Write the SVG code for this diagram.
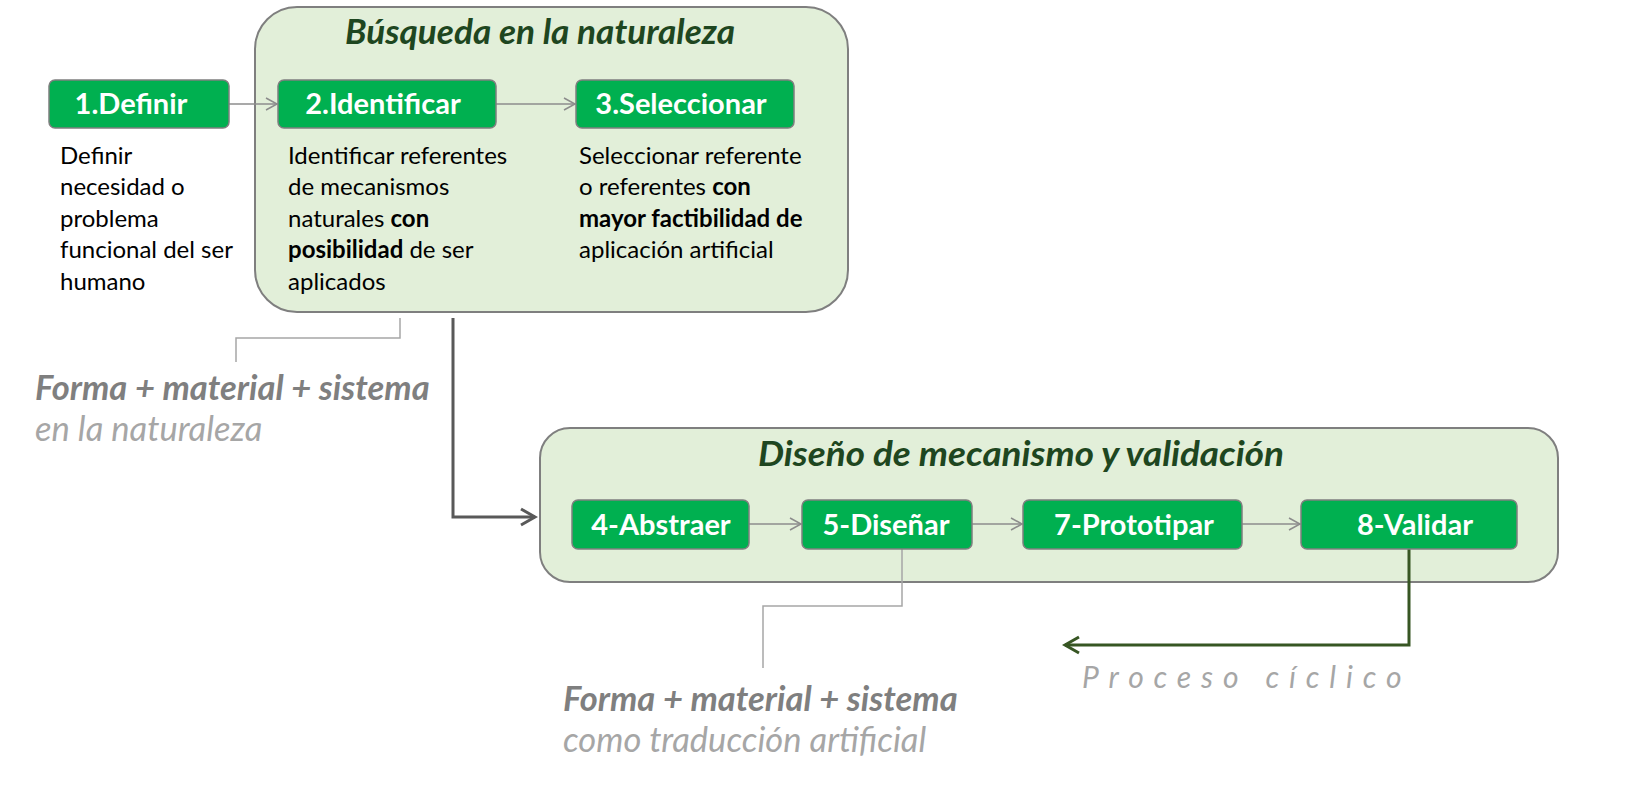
<svg xmlns="http://www.w3.org/2000/svg" width="1632" height="792" viewBox="0 0 1632 792">
  <defs>
    <style>
      .group { fill: #e2efd9; stroke: #7f7f7f; stroke-width: 2; }
      .node { fill: #00b050; stroke: #7f7f7f; stroke-width: 1.5; }
      .nlabel { font-family: Lato, "Open Sans", sans-serif; font-weight: bold; font-size: 29px; fill: #ffffff; text-anchor: middle; }
      .title { font-family: Lato, "Open Sans", sans-serif; font-weight: bold; font-style: italic; font-size: 35px; fill: #1e4620; }
      .desc { font-family: Lato, "Open Sans", sans-serif; font-size: 24px; fill: #000000; }
      .b { font-weight: bold; }
      .note1 { font-family: Lato, "Open Sans", sans-serif; font-weight: bold; font-style: italic; font-size: 34.5px; fill: #7f7f7f; }
      .note2 { font-family: Lato, "Open Sans", sans-serif; font-style: italic; font-size: 34.5px; fill: #a6a6a6; }
      .cycle { font-family: Lato, "Open Sans", sans-serif; font-style: italic; font-size: 30px; fill: #a6a6a6; letter-spacing: 9.9px; }
      .thin { fill: none; stroke: #8c8c8c; stroke-width: 1.5; }
      .callout { fill: none; stroke: #a6a6a6; stroke-width: 1.5; }
      .dark { fill: none; stroke: #595959; stroke-width: 3; }
      .cyc { fill: none; stroke: #375623; stroke-width: 3; }
    </style>
    <marker id="arrThin" markerWidth="14" markerHeight="14" refX="12" refY="7" orient="auto" markerUnits="userSpaceOnUse">
      <path d="M1,1 L12,7 L1,13" fill="none" stroke="#8c8c8c" stroke-width="1.5"/>
    </marker>
    <marker id="arrDark" markerWidth="20" markerHeight="20" refX="17" refY="10" orient="auto" markerUnits="userSpaceOnUse">
      <path d="M3,2 L17,10 L3,18" fill="none" stroke="#595959" stroke-width="3"/>
    </marker>
    <marker id="arrCyc" markerWidth="20" markerHeight="20" refX="17" refY="10" orient="auto" markerUnits="userSpaceOnUse">
      <path d="M3,2 L17,10 L3,18" fill="none" stroke="#375623" stroke-width="3"/>
    </marker>
  </defs>
  <rect width="1632" height="792" fill="#ffffff"/>

  <g id="group-busqueda">
    <rect class="group" x="255" y="7" width="593" height="305" rx="42"/>
    <text class="title" x="345" y="44" textLength="390" lengthAdjust="spacingAndGlyphs">Búsqueda en la naturaleza</text>
  </g>
  <g id="group-diseno">
    <rect class="group" x="540" y="428" width="1018" height="154" rx="30"/>
    <text class="title" x="758" y="466" textLength="526" lengthAdjust="spacingAndGlyphs">Diseño de mecanismo y validación</text>
  </g>

  <g id="connectors">
    <line class="thin" x1="229" y1="104" x2="277" y2="104" marker-end="url(#arrThin)"/>
    <line class="thin" x1="496" y1="104" x2="575" y2="104" marker-end="url(#arrThin)"/>
    <line class="thin" x1="749" y1="524" x2="801" y2="524" marker-end="url(#arrThin)"/>
    <line class="thin" x1="972" y1="524" x2="1022" y2="524" marker-end="url(#arrThin)"/>
    <line class="thin" x1="1242" y1="524" x2="1300" y2="524" marker-end="url(#arrThin)"/>
    <polyline class="callout" points="400,318 400,338 236,338 236,362"/>
    <polyline class="callout" points="902,549 902,606 763,606 763,668"/>
    <polyline class="dark" points="453,318 453,517 535,517" marker-end="url(#arrDark)"/>
    <polyline class="cyc" points="1409,549 1409,645 1065,645" marker-end="url(#arrCyc)"/>
  </g>

  <g id="node-1">
    <rect class="node" x="49" y="80" width="180" height="48" rx="6"/>
    <text class="nlabel" x="131" y="114">1.Definir</text>
    <text class="desc"><tspan x="60" y="164">Definir</tspan><tspan x="60" y="195">necesidad o</tspan><tspan x="60" y="227">problema</tspan><tspan x="60" y="258">funcional del ser</tspan><tspan x="60" y="290">humano</tspan></text>
  </g>
  <g id="node-2">
    <rect class="node" x="278" y="80" width="218" height="48" rx="6"/>
    <text class="nlabel" x="383" y="114">2.Identificar</text>
    <text class="desc"><tspan x="288" y="164">Identificar referentes</tspan><tspan x="288" y="195">de mecanismos</tspan><tspan x="288" y="227">naturales <tspan class="b">con</tspan></tspan><tspan x="288" y="258" class="b">posibilidad</tspan><tspan> de ser</tspan><tspan x="288" y="290">aplicados</tspan></text>
  </g>
  <g id="node-3">
    <rect class="node" x="576" y="80" width="218" height="48" rx="6"/>
    <text class="nlabel" x="681" y="114">3.Seleccionar</text>
    <text class="desc"><tspan x="579" y="164">Seleccionar referente</tspan><tspan x="579" y="195">o referentes <tspan class="b">con</tspan></tspan><tspan x="579" y="227" class="b">mayor factibilidad de</tspan><tspan x="579" y="258">aplicación artificial</tspan></text>
  </g>
  <g id="node-4">
    <rect class="node" x="572" y="500" width="177" height="49" rx="6"/>
    <text class="nlabel" x="661" y="535">4-Abstraer</text>
  </g>
  <g id="node-5">
    <rect class="node" x="802" y="500" width="170" height="49" rx="6"/>
    <text class="nlabel" x="886" y="535">5-Diseñar</text>
  </g>
  <g id="node-7">
    <rect class="node" x="1023" y="500" width="219" height="49" rx="6"/>
    <text class="nlabel" x="1134" y="535">7-Prototipar</text>
  </g>
  <g id="node-8">
    <rect class="node" x="1301" y="500" width="216" height="49" rx="6"/>
    <text class="nlabel" x="1415" y="535">8-Validar</text>
  </g>

  <g id="note-naturaleza">
    <text class="note1" x="35" y="400">Forma + material + sistema</text>
    <text class="note2" x="35" y="441">en la naturaleza</text>
  </g>
  <g id="note-artificial">
    <text class="note1" x="563" y="711">Forma + material + sistema</text>
    <text class="note2" x="563" y="752">como traducción artificial</text>
  </g>
  <g id="note-ciclico">
    <text class="cycle" x="1082" y="688">Proceso cíclico</text>
  </g>
</svg>
